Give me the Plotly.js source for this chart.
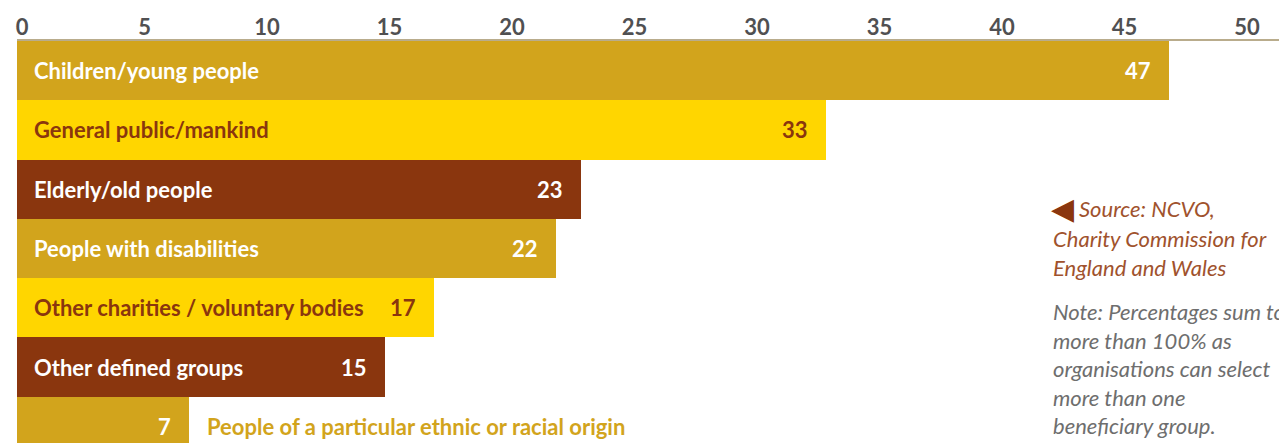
<!DOCTYPE html>
<html>
<head>
<meta charset="utf-8">
<script src="https://cdn.plot.ly/plotly-3.0.1.min.js"></script>
<style>html,body{margin:0;padding:0;background:#fff;}#chart{width:1279px;height:443px;}</style>
</head>
<body>
<div id="chart"></div>
<script>
const categories = [
  "Children/young people",
  "General public/mankind",
  "Elderly/old people",
  "People with disabilities",
  "Other charities / voluntary bodies",
  "Other defined groups",
  "People of a particular ethnic or racial origin"
];
const values = [47, 33, 23, 22, 17, 15, 7];
const barColors = ["#D2A41C", "#FFD600", "#8A360E", "#D2A41C", "#FFD600", "#8A360E", "#D2A41C"];
const labelColors = ["#FFFFFF", "#8A360E", "#FFFFFF", "#FFFFFF", "#8A360E", "#FFFFFF", "#FFFFFF"];
const tickValues = [0, 5, 10, 15, 20, 25, 30, 35, 40, 45, 50];
const sourceFirst = "Source: NCVO,";
const sourceRest = "Charity Commission for<br>England and Wales";
const noteText = "Note: Percentages sum to<br>more than 100% as<br>organisations can select<br>more than one<br>beneficiary group.";

const FONT = "Lato, 'Open Sans', sans-serif";
const idx = categories.map((c, i) => i);

const trace = {
  type: "bar",
  orientation: "h",
  x: values,
  y: idx,
  marker: { color: barColors, line: { width: 0 } },
  width: 1,
  hoverinfo: "skip",
  showlegend: false
};

const px = p => (p - 17) / 1262;
const py = p => 1 - (p - 41) / 402;

const annotations = [];
categories.forEach((c, i) => {
  const outside = values[i] < 10;
  annotations.push({
    x: outside ? values[i] : 0, y: i, xref: "x", yref: "y",
    text: c, showarrow: false,
    xanchor: "left", yanchor: "middle", xshift: outside ? 16 : 15,
    font: { family: FONT, size: 22, weight: "bold", color: outside ? barColors[i] : labelColors[i] }
  });
  annotations.push({
    x: values[i], y: i, xref: "x", yref: "y",
    text: String(values[i]), showarrow: false,
    xanchor: "right", yanchor: "middle", xshift: -16,
    font: { family: FONT, size: 22, weight: "bold", color: labelColors[i] }
  });
});
annotations.push({
  x: px(1049), y: py(208), xref: "paper", yref: "paper",
  text: "◀", showarrow: false, xanchor: "left", yanchor: "middle",
  font: { family: "DejaVu Sans", size: 30, color: "#8A360E" }
});
annotations.push({
  x: px(1077), y: py(208), xref: "paper", yref: "paper",
  text: "<i>" + sourceFirst + "</i>", showarrow: false, xanchor: "left", yanchor: "middle", align: "left",
  font: { family: FONT, size: 22, color: "#A0522D" }
});
annotations.push({
  x: px(1051), y: py(223), xref: "paper", yref: "paper",
  text: "<i>" + sourceRest + "</i>", showarrow: false, xanchor: "left", yanchor: "top", align: "left",
  font: { family: FONT, size: 22, color: "#A0522D" }
});
annotations.push({
  x: px(1051), y: py(296), xref: "paper", yref: "paper",
  text: "<i>" + noteText + "</i>", showarrow: false, xanchor: "left", yanchor: "top", align: "left",
  font: { family: FONT, size: 22, color: "#6E6E6E" }
});

const layout = {
  width: 1279, height: 443,
  margin: { l: 17, r: 0, t: 41, b: 0, pad: 0 },
  paper_bgcolor: "#FFFFFF", plot_bgcolor: "#FFFFFF",
  bargap: 0,
  xaxis: {
    side: "top", range: [0, 51.51], tickvals: tickValues,
    ticktext: tickValues.map(v => "<b>" + v + "</b>"),
    showgrid: false, zeroline: false, showline: true, linecolor: "#B9AC8C", linewidth: 2,
    ticks: "", ticklabelshift: 5, ticklabelstandoff: -5,
    tickfont: { family: FONT, size: 22, weight: 900, color: "#505052" }, fixedrange: true
  },
  yaxis: {
    range: [6.28, -0.5], autorange: false, showticklabels: false, showgrid: false,
    zeroline: false, showline: false, ticks: "", fixedrange: true
  },
  annotations: annotations
};

Plotly.newPlot("chart", [trace], layout, { displayModeBar: false, staticPlot: true });
</script>
</body>
</html>
